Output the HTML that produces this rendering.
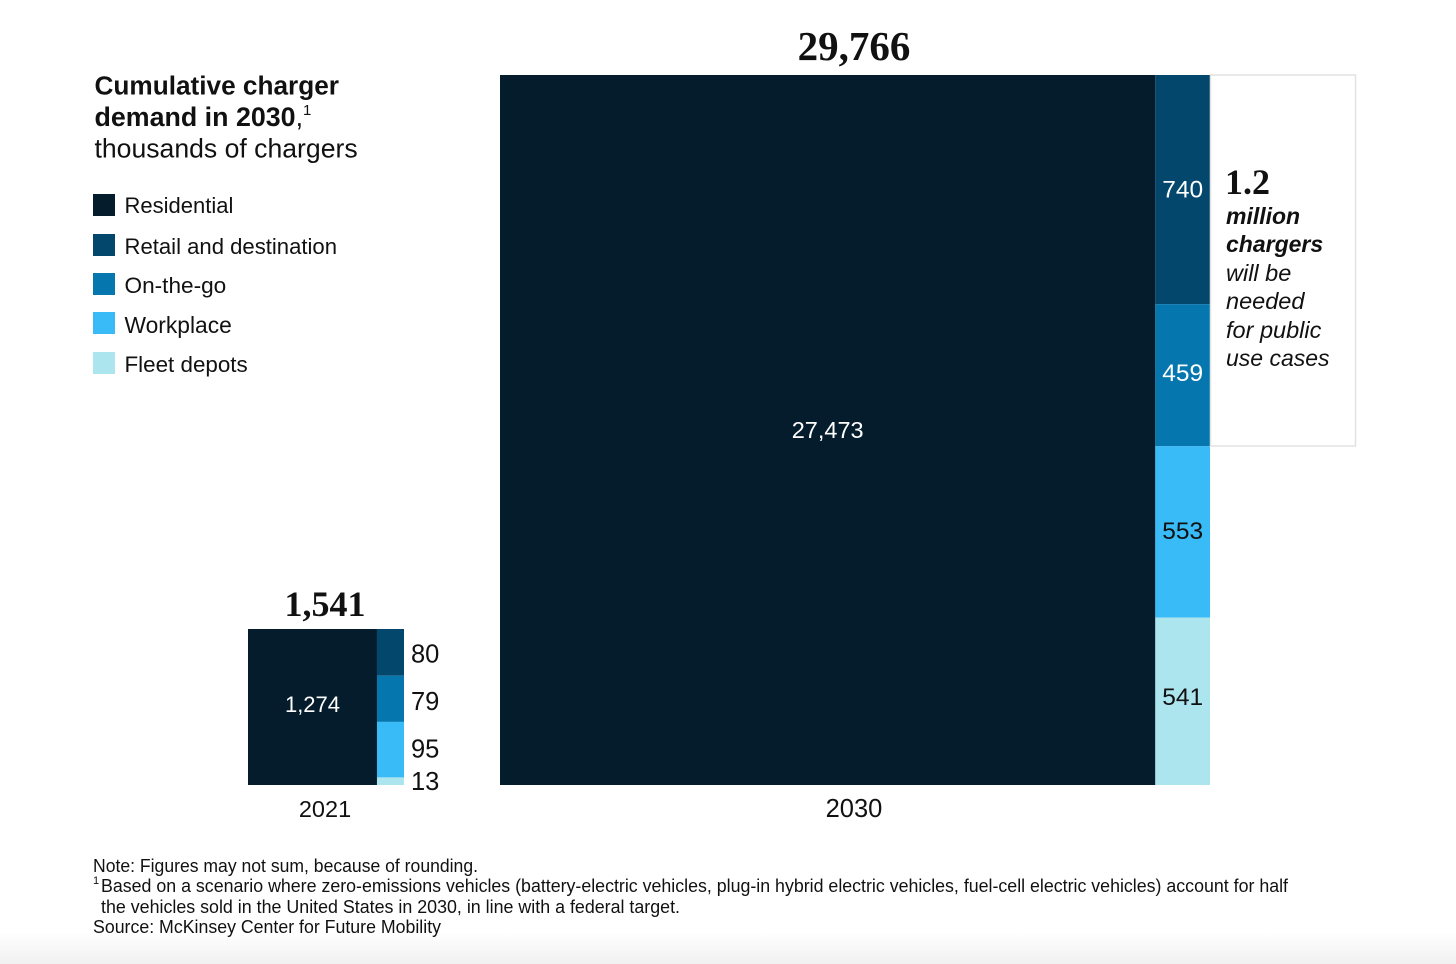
<!DOCTYPE html>
<html lang="en">
<head>
<meta charset="utf-8">
<title>Cumulative charger demand in 2030</title>
<style>
  html, body { margin: 0; padding: 0; background: #fff; }
  body { width: 1456px; height: 964px; overflow: hidden; }
  svg { display: block; }
  text { font-family: "Liberation Sans", sans-serif; fill: #111; }
  .serif { font-family: "Liberation Serif", serif; font-weight: 700; }
</style>
</head>
<body>
<svg id="chart" width="1456" height="964" viewBox="0 0 1456 964" xmlns="http://www.w3.org/2000/svg">
  <defs>
    <linearGradient id="fade" x1="0" y1="0" x2="0" y2="1">
      <stop offset="0" stop-color="#ffffff"/>
      <stop offset="1" stop-color="#f1f1f1"/>
    </linearGradient>
  </defs>
  <rect x="0" y="0" width="1456" height="964" fill="#ffffff"/>
  <rect x="0" y="932" width="1456" height="32" fill="url(#fade)"/>

  <g>
    <text x="94.5" y="94.5" font-size="26.2" font-weight="700">Cumulative charger</text>
    <text x="94.5" y="126" font-size="26.8" font-weight="700">demand in 2030<tspan font-weight="400">,</tspan><tspan font-weight="400" font-size="15" dy="-11">1</tspan></text>
    <text x="94.5" y="157.5" font-size="26.6">thousands of chargers</text>
  </g>

  <g id="legend"></g>
  <g id="bars"></g>

  <rect x="1210.5" y="75" width="145" height="371" fill="#ffffff" stroke="#e2e2e2" stroke-width="1.5"/>
  <g>
    <text class="serif" x="1225" y="194" font-size="36">1.2</text>
    <text x="1226" y="224" font-size="23" font-weight="700" font-style="italic">million</text>
    <text x="1226" y="252" font-size="23" font-weight="700" font-style="italic">chargers</text>
    <text x="1226" y="281" font-size="23.5" font-style="italic">will be</text>
    <text x="1226" y="309" font-size="23.5" font-style="italic">needed</text>
    <text x="1226" y="338" font-size="23.5" font-style="italic">for public</text>
    <text x="1226" y="366" font-size="23" font-style="italic">use cases</text>
  </g>

  <g>
    <text x="93" y="872" font-size="18" textLength="385" lengthAdjust="spacingAndGlyphs">Note: Figures may not sum, because of rounding.</text>
    <text x="93" y="884" font-size="11">1</text>
    <text x="101" y="892" font-size="18" textLength="1187" lengthAdjust="spacingAndGlyphs">Based on a scenario where zero-emissions vehicles (battery-electric vehicles, plug-in hybrid electric vehicles, fuel-cell electric vehicles) account for half</text>
    <text x="101" y="913" font-size="18" textLength="579" lengthAdjust="spacingAndGlyphs">the vehicles sold in the United States in 2030, in line with a federal target.</text>
    <text x="93" y="933" font-size="18" textLength="348" lengthAdjust="spacingAndGlyphs">Source: McKinsey Center for Future Mobility</text>
  </g>
</svg>
<script>
// Data
const categories = ['Residential', 'Retail and destination', 'On-the-go', 'Workplace', 'Fleet depots'];
const years = ['2021', '2030'];
const values2021 = [1274, 80, 79, 95, 13];
const values2030 = [27473, 740, 459, 553, 541];
const totals = [1541, 29766];

// Styling and layout (not data)
const colors = ['#051c2c', '#03476d', '#0677ae', '#38bbf6', '#ade5ef'];
const labelColors = ['#ffffff', '#ffffff', '#ffffff', '#111111', '#111111'];
const legendTops = [194, 234, 273, 312, 352];
const legendBaselines = [19, 20, 20, 21, 20];
const legendSizes = [22, 22.1, 22.6, 22.8, 22.4];
const SVG_NS = 'http://www.w3.org/2000/svg';
const barsLayer = document.getElementById('bars');
const legendLayer = document.getElementById('legend');

function fmt(n) { return n.toLocaleString('en-US'); }

function makeText(parent, str, x, y, size, anchor, fill, cls) {
  const t = document.createElementNS(SVG_NS, 'text');
  t.setAttribute('x', x);
  t.setAttribute('y', y);
  t.setAttribute('font-size', size);
  t.setAttribute('text-anchor', anchor);
  if (fill) t.style.fill = fill;
  if (cls) t.setAttribute('class', cls);
  t.textContent = str;
  parent.appendChild(t);
  return t;
}

function makeRect(parent, x, y, w, h, fill) {
  const r = document.createElementNS(SVG_NS, 'rect');
  r.setAttribute('x', x);
  r.setAttribute('y', y);
  r.setAttribute('width', w);
  r.setAttribute('height', h);
  r.setAttribute('fill', fill);
  parent.appendChild(r);
  return r;
}

// Square treemap: the main block takes its share of width, the rest stack in a column.
function drawTreemap(values, total, year, left, bottom, side, opts) {
  const sum = values.reduce(function (a, b) { return a + b; }, 0);
  const top = bottom - side;
  const mainW = (values[0] / sum) * side;
  const restSum = sum - values[0];

  const main = makeRect(barsLayer, left, top, mainW, side, colors[0]);
  
  

  const mainLabel = makeText(barsLayer, fmt(values[0]), left + mainW / 2, top + side / 2 + opts.mainDy, opts.mainSize, 'middle', '#ffffff');
  
  

  let y = top;
  for (let i = 1; i < values.length; i++) {
    const h = (values[i] / restSum) * side;
    const seg = makeRect(barsLayer, left + mainW, y, side - mainW, h, colors[i]);
    
    

    const lx = opts.outside ? left + side + 7 : left + mainW + (side - mainW) / 2;
    const ly = y + h / 2 + opts.segDy[i - 1];
    const lab = makeText(barsLayer, fmt(values[i]), lx, ly, opts.segSize, opts.outside ? 'start' : 'middle', opts.outside ? '#111111' : labelColors[i]);
    
    
    y += h;
  }

  const totalLabel = makeText(barsLayer, fmt(total), left + side / 2 + opts.totalDx, top - opts.totalGap, opts.totalSize, 'middle', '#111111', 'serif');
  
  

  const yearLabel = makeText(barsLayer, year, left + side / 2 + opts.yearDx, bottom + 32, opts.yearSize, 'middle', '#111111');
  
  
}

drawTreemap(values2021, totals[0], years[0], 248, 785, 156, {
  outside: true, mainSize: 22, mainDy: 5, segSize: 25.5, segDy: [10, 11, 8, 9],
  totalSize: 36, totalGap: 13, totalDx: -1, yearSize: 23.5, yearDx: -1
});
drawTreemap(values2030, totals[1], years[1], 500, 785, 710, {
  outside: false, mainSize: 23.5, mainDy: 8, segSize: 24.5, segDy: [8, 6, 7, 4],
  totalSize: 41, totalGap: 15, totalDx: -1, yearSize: 25.5, yearDx: -1
});

categories.forEach(function (name, i) {
  const swatch = makeRect(legendLayer, 93, legendTops[i], 22, 22, colors[i]);
  
  
  const label = makeText(legendLayer, name, 124.5, legendTops[i] + legendBaselines[i], legendSizes[i], 'start', '#111111');
  
  
});
</script>
</body>
</html>
